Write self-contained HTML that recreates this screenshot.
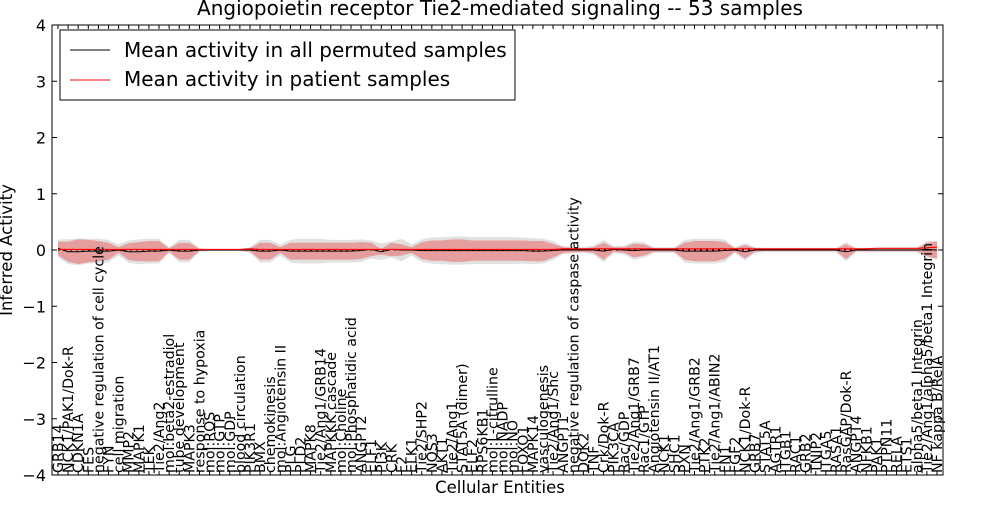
<!DOCTYPE html>
<html><head><meta charset="utf-8"><style>body{margin:0;background:#fff}svg{font-family:"DejaVu Sans","Liberation Sans",sans-serif}</style></head>
<body>
<svg id="chart" width="1000" height="500" xmlns="http://www.w3.org/2000/svg">
<text x="500" y="15" text-anchor="middle" font-size="20">Angiopoietin receptor Tie2-mediated signaling -- 53 samples</text>
<text x="500" y="493" text-anchor="middle" font-size="16.5">Cellular Entities</text>
<text transform="translate(12,250) rotate(-90)" text-anchor="middle" font-size="16.5">Inferred Activity</text>
<g id="plot"></g>
</svg>
<script>
const entities=["GRB14","NCK1/PAK1/Dok-R","CDKN1A","FES","negative regulation of cell cycle","FYN","cell migration","MMP2","MAPK1","TEK","Tie2/Ang2","mol:beta2-estradiol","tube development","MAPK3","response to hypoxia","mol:ROS","mol:GTP","mol:GDP","blood circulation","PIK3R1","BMX","chemokinesis","mol:Angiotensin II","PLG","PLD2","MAPK8","Tie2/Ang1/GRB14","MAPKKK cascade","mol:Choline","mol:Phosphatidic acid","ANGPT2","ELF1","PI3K","CRK","F2","ELK1","Tie2/SHP2","NOS3","AKT1","Tie2/Ang1","STAT5A (dimer)","ELF2","RPS6KB1","mol:L-citrulline","mol:NADP","mol:NO","FOXO1","MAPK14","vasculogenesis","Tie2/Ang1/Shc","ANGPT1","negative regulation of caspase activity","DOK2","TNF","Crk/Dok-R","PIK3CA","Rac/GDP","Tie2/Ang1/GRB7","Rac1/GTP","Angiotensin II/AT1","NCK1","SHC1","PXN","Tie2/Ang1/GRB2","PTK2","Tie2/Ang1/ABIN2","FN1","FGF2","NCK1/Dok-R","GRB7","STAT5A","AGTR1","ITGB1","RAC1","GRB2","TNIP2","ITGA5","RASA1","RasGAP/Dok-R","ANGPT4","NFKB1","PAK1","PTPN11","RELA","ETS1","alpha5/beta1 Integrin","Tie2/Ang1/alpha5/beta1 Integrin","NF kappa B/RelA"];
const redHalf=[0.12,0.18,0.22,0.2,0.18,0.15,0.05,0.15,0.17,0.18,0.18,0.03,0.15,0.15,0.02,0.01,0.01,0.01,0.01,0.03,0.15,0.15,0.05,0.15,0.15,0.15,0.15,0.15,0.15,0.15,0.15,0.12,0.05,0.12,0.1,0.05,0.15,0.18,0.18,0.2,0.2,0.18,0.18,0.18,0.18,0.18,0.18,0.18,0.18,0.12,0.05,0.04,0.03,0.05,0.15,0.04,0.05,0.12,0.1,0.03,0.03,0.03,0.15,0.18,0.18,0.18,0.15,0.03,0.12,0.03,0.02,0.02,0.02,0.02,0.02,0.02,0.02,0.02,0.13,0.02,0.02,0.02,0.02,0.02,0.02,0.02,0.12,0.15];
const grayHalf=[0.16,0.22,0.24,0.22,0.22,0.2,0.1,0.2,0.22,0.22,0.22,0.05,0.2,0.2,0.03,0.02,0.02,0.02,0.02,0.05,0.2,0.2,0.1,0.2,0.22,0.22,0.22,0.2,0.2,0.2,0.2,0.16,0.15,0.14,0.2,0.1,0.2,0.23,0.24,0.25,0.25,0.24,0.24,0.24,0.24,0.24,0.23,0.23,0.22,0.17,0.07,0.06,0.05,0.08,0.2,0.06,0.08,0.16,0.14,0.05,0.05,0.05,0.2,0.22,0.22,0.22,0.2,0.05,0.16,0.05,0.04,0.04,0.04,0.04,0.04,0.04,0.04,0.04,0.17,0.04,0.04,0.04,0.04,0.04,0.04,0.04,0.15,0.16];
const permMean=[0.03,-0.03,-0.03,-0.02,-0.02,-0.02,0,-0.03,-0.03,-0.02,-0.02,0,-0.02,-0.02,0,0,0,0,0,0,-0.02,-0.02,0,-0.02,-0.02,-0.02,-0.02,-0.02,-0.02,-0.02,-0.01,0.01,-0.03,0.01,0,0,-0.01,-0.01,-0.01,-0.01,-0.01,-0.01,-0.01,-0.01,-0.01,-0.01,-0.01,-0.02,-0.02,-0.01,0,0,0,0,-0.02,0.01,0,-0.01,0,0,0,0,-0.02,-0.02,-0.02,-0.02,-0.01,0,-0.03,0,0,0,0,0,0,0,0,0,-0.03,0,0,0,0,0,0,0,0.01,0];
const patMean=[0.01,0.01,0.01,0.01,0.01,0.01,0.01,0.01,0.01,0.01,0.01,0.01,0.01,0.01,0.01,0.01,0.01,0.01,0.01,0.02,0.01,0.01,0.01,0.01,0.01,0.01,0.01,0.01,0.01,0.01,0.01,0.01,0.01,0.01,0.01,0.01,0.01,0.01,0.01,0.01,0.01,0.01,0.01,0.01,0.01,0.01,0.01,0.01,0.01,0.01,0.02,0.02,0.02,0.02,0.02,0.02,0.02,0.02,0.02,0.02,0.02,0.02,0.02,0.02,0.02,0.02,0.02,0.02,0.02,0.02,0.02,0.02,0.02,0.02,0.02,0.02,0.02,0.02,0.02,0.02,0.02,0.03,0.03,0.03,0.03,0.03,0.04,0.05];
const yTicks=[4,3,2,1,0,-1,-2,-3,-4];
const L=52,R=943,T=25,B=475;
const X=i=>58+i*(937-58)/(entities.length-1);
const Y=v=>250-v*(B-T)/8;
const NS="http://www.w3.org/2000/svg";
const g=document.getElementById('plot');
function mk(tag,attrs,parent){const e=document.createElementNS(NS,tag);for(const k in attrs)e.setAttribute(k,attrs[k]);(parent||g).appendChild(e);return e;}
function band(half,fill,op,name){
  let up=entities.map((_,i)=>X(i)+','+Y(permMean[i]+half[i]));
  let dn=entities.map((_,i)=>X(i)+','+Y(permMean[i]-half[i])).reverse();
  const p=mk('polygon',{points:up.concat(dn).join(' '),fill:fill,'fill-opacity':op});
  
  
}
band(grayHalf,'#c8c8c8',0.55,'permuted-range-band');
band(redHalf,'#ec5a5a',0.5,'patient-range-band');
let z=mk('line',{x1:L,x2:R,y1:Y(0),y2:Y(0),stroke:'#000','stroke-dasharray':'2,4','stroke-width':1});


let pl=mk('polyline',{points:entities.map((_,i)=>X(i)+','+Y(permMean[i])).join(' '),fill:'none',stroke:'#000','stroke-width':1});


let rl=mk('polyline',{points:entities.map((_,i)=>X(i)+','+Y(patMean[i])).join(' '),fill:'none',stroke:'#f00','stroke-width':1.2});


let fr=mk('rect',{x:L,y:T,width:R-L,height:B-T,fill:'none',stroke:'#000'});


yTicks.forEach(v=>{
  mk('line',{x1:L,x2:L+5,y1:Y(v),y2:Y(v),stroke:'#000'});
  mk('line',{x1:R-5,x2:R,y1:Y(v),y2:Y(v),stroke:'#000'});
  const t=mk('text',{x:L-6,y:Y(v)+6,'text-anchor':'end','font-size':16});
  t.textContent=(v<0?'\u2212'+(-v):v);
  
  
});
entities.forEach((n,i)=>{
  mk('line',{x1:X(i),x2:X(i),y1:B,y2:B-4,stroke:'#000'});
  mk('line',{x1:X(i),x2:X(i),y1:T,y2:T+4,stroke:'#000'});
  const t=mk('text',{transform:`translate(${X(i)+5},${B-2}) rotate(-90)`,'font-size':14.2});
  t.textContent=n;
  
  
});
const lg=mk('g',{});


mk('rect',{x:60,y:30,width:455,height:70,fill:'#fff',stroke:'#000'},lg);
mk('line',{x1:70,x2:110,y1:50,y2:50,stroke:'#000'},lg);
mk('line',{x1:70,x2:110,y1:80,y2:80,stroke:'#f00'},lg);
const t1=mk('text',{x:124,y:57,'font-size':20},lg);t1.textContent='Mean activity in all permuted samples';


const t2=mk('text',{x:124,y:86,'font-size':20},lg);t2.textContent='Mean activity in patient samples';


</script>
</body></html>
